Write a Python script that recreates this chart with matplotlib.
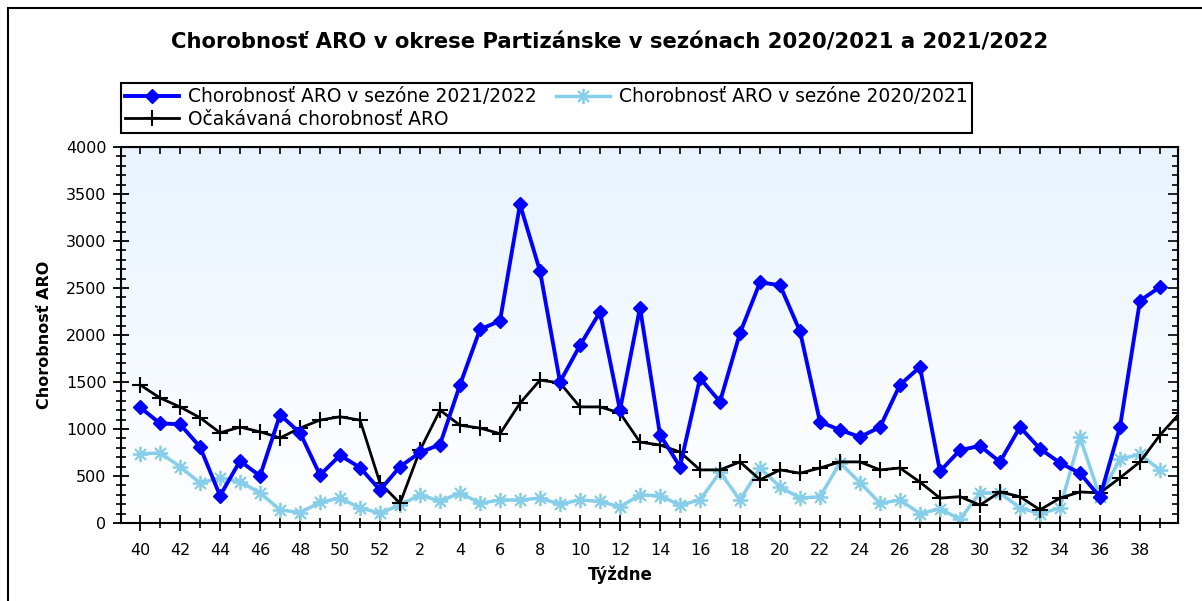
import numpy as np
import matplotlib.pyplot as plt
from matplotlib.colors import LinearSegmentedColormap
from matplotlib.patches import Rectangle

plt.rcParams['font.family'] = ['DejaVu Sans']

# weeks of the season: 40..52, then 1..39
weeks = list(range(40, 53)) + list(range(1, 40))

# ARO morbidity, season 2021/2022
season_2122 = [1230, 1060, 1050, 810, 290, 660, 500, 1150, 960, 510, 720, 590, 350,
               600, 750, 835, 1470, 2060, 2150, 3390, 2680, 1500, 1890,
               2245, 1200, 2290, 940, 600, 1540, 1290, 2020, 2560, 2530,
               2040, 1075, 990, 915, 1020, 1470, 1660, 550, 775, 820,
               650, 1020, 790, 640, 530, 275, 1020, 2365, 2510]

# ARO morbidity, season 2020/2021
season_2021 = [735, 745, 600, 425, 480, 440, 320, 140, 110, 220, 265, 160, 105,
               190, 300, 230, 320, 210, 245, 245, 265, 200, 245,
               230, 170, 300, 290, 190, 245, 540, 245, 585, 385,
               265, 280, 640, 430, 210, 245, 100, 150, 40, 320,
               320, 160, 100, 160, 910, 280, 680, 730, 565]

# expected morbidity (one extra value for week 40 of the next season)
expected = [1470, 1330, 1235, 1120, 960, 1020, 970, 905, 1010, 1095, 1130, 1095, 425,
            210, 775, 1200, 1040, 1010, 950, 1275, 1520, 1490, 1235,
            1235, 1170, 860, 830, 755, 565, 565, 650, 460, 565,
            530, 585, 650, 650, 565, 585, 435, 265, 280, 190,
            330, 280, 140, 265, 330, 320, 480, 650, 935, 1170]

x = np.arange(len(weeks))
x_exp = np.arange(len(expected))

fig = plt.figure(figsize=(12.02, 6.01), dpi=100)
ax = fig.add_axes([0.1007, 0.1298, 0.8793, 0.6256])

# light blue gradient background
bg = LinearSegmentedColormap.from_list('bg', ['#FFFFFF', '#E8F3FF'])
grad = np.linspace(0, 1, 256).reshape(-1, 1)
ax.imshow(grad, extent=[0, 1, 0, 1], transform=ax.transAxes, origin='lower',
          cmap=bg, aspect='auto', zorder=0)

l_old, = ax.plot(x, season_2021, color='#87CEEB', lw=2.5, marker=(8, 2, 0),
                 ms=11, mew=1.3, zorder=2)
l_exp, = ax.plot(x_exp, expected, color='black', lw=2, marker='+',
                 ms=12, mew=1.5, zorder=3)
l_new, = ax.plot(x, season_2122, color='#0000FF', lw=2.8, marker='D',
                 ms=7, zorder=4)

ax.set_xlim(-0.95, 51.9)
ax.set_ylim(0, 4000)
ax.set_xticks(x[::2])
ax.set_xticklabels([str(w) for w in weeks[::2]])
ax.set_xticks(x, minor=True)
ax.set_yticks(np.arange(0, 4001, 500))
ax.set_yticks(np.arange(0, 4001, 100), minor=True)
ax.tick_params(which='major', direction='inout', length=11, width=1.3,
               labelsize=11.5)
ax.tick_params(axis='x', which='major', pad=9)
ax.tick_params(axis='y', which='major', pad=5)
ax.tick_params(which='minor', direction='inout', length=7, width=1.2)
for s in ax.spines.values():
    s.set_linewidth(1.5)

top = ax.secondary_xaxis('top')
top.set_xticks(x[::2])
top.set_xticks(x, minor=True)
top.tick_params(which='both', direction='in', length=5, width=1.2, labeltop=False)
right = ax.secondary_yaxis('right')
right.set_yticks(np.arange(0, 4001, 500))
right.set_yticks(np.arange(0, 4001, 100), minor=True)
right.tick_params(which='major', direction='in', length=7, width=1.2, labelright=False)
right.tick_params(which='minor', direction='in', length=4, width=1.2)

fig.text(0.507, 1 - 42 / 601,
         'Chorobnosť ARO v okrese Partizánske v sezónach 2020/2021 a 2021/2022',
         ha='center', va='center', fontsize=15.2, fontweight='bold')
fig.text(45 / 1202, 1 - 335 / 601, 'Chorobnosť ARO', rotation=90,
         ha='center', va='center', fontsize=11.5, fontweight='bold')
fig.text(620 / 1202, 1 - 575 / 601, 'Týždne', ha='center', va='center',
         fontsize=12, fontweight='bold')

leg = ax.legend([l_new, l_exp, l_old],
                ['Chorobnosť ARO v sezóne 2021/2022', 'Očakávaná chorobnosť ARO',
                 'Chorobnosť ARO v sezóne 2020/2021'],
                ncol=2, loc='upper left', bbox_to_anchor=(121 / 1202, 1 - 83 / 601),
                bbox_transform=fig.transFigure, fancybox=False, framealpha=1,
                edgecolor='black', borderaxespad=0, handlelength=2.9,
                handletextpad=0.5, columnspacing=1.0, labelspacing=0.2,
                borderpad=0.22, fontsize=13.4)
leg.get_frame().set_linewidth(1.5)

# outer frame of the picture
fig.add_artist(Rectangle((8 / 1202, -0.5), 2, 1 - 8 / 601 + 0.5,
                         transform=fig.transFigure, fill=False,
                         edgecolor='black', lw=1.5))

fig.savefig('out.png', dpi=100)
